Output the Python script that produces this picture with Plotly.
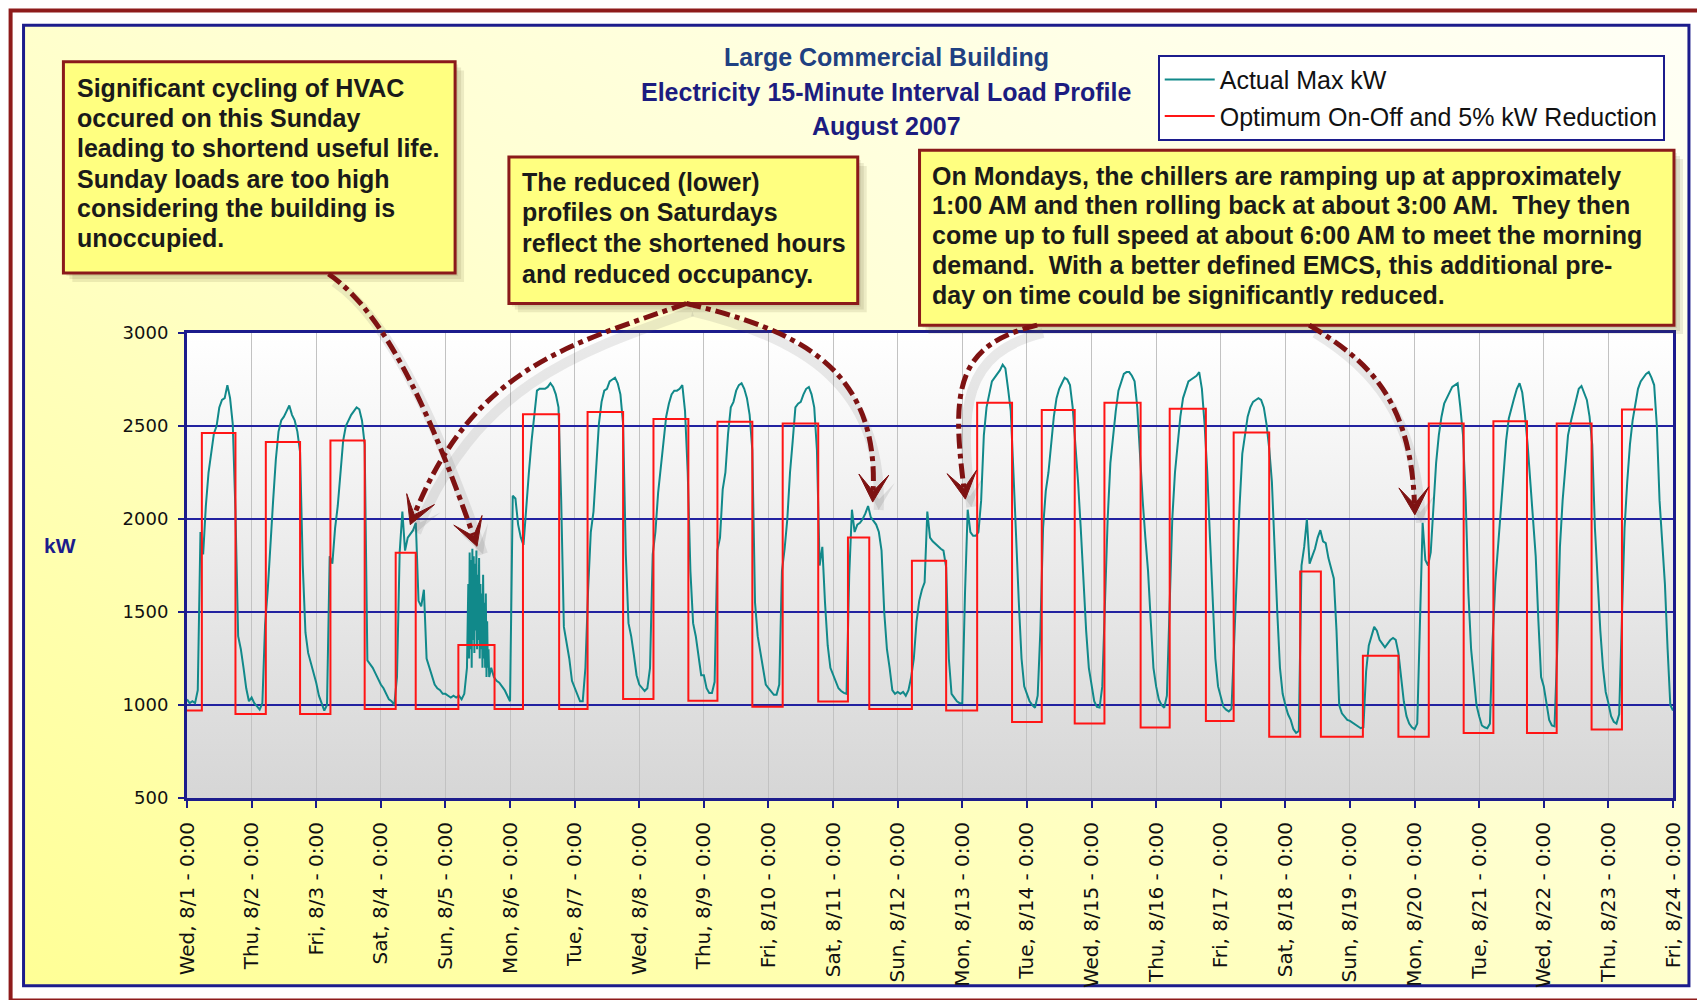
import plotly.graph_objects as go
import base64

# ---------------- DATA ----------------
x_tick_labels = [
    "Wed, 8/1 - 0:00", "Thu, 8/2 - 0:00", "Fri, 8/3 - 0:00", "Sat, 8/4 - 0:00",
    "Sun, 8/5 - 0:00", "Mon, 8/6 - 0:00", "Tue, 8/7 - 0:00", "Wed, 8/8 - 0:00",
    "Thu, 8/9 - 0:00", "Fri, 8/10 - 0:00", "Sat, 8/11 - 0:00", "Sun, 8/12 - 0:00",
    "Mon, 8/13 - 0:00", "Tue, 8/14 - 0:00", "Wed, 8/15 - 0:00", "Thu, 8/16 - 0:00",
    "Fri, 8/17 - 0:00", "Sat, 8/18 - 0:00", "Sun, 8/19 - 0:00", "Mon, 8/20 - 0:00",
    "Tue, 8/21 - 0:00", "Wed, 8/22 - 0:00", "Thu, 8/23 - 0:00", "Fri, 8/24 - 0:00",
]

# Actual Max kW, hourly readings (hour 0..23) for each day 8/1 .. 8/23
actual_hourly_kw = [
    [1030, 1010, 1020, 1010, 1080, 1930, 1810, 2070, 2250, 2370, 2460, 2500, 2600, 2640, 2650, 2720, 2650, 2510, 2040, 1370, 1300, 1200, 1090, 1020],  # Wed 8/1
    [1040, 1010, 990, 975, 1010, 1430, 1620, 1880, 2100, 2320, 2470, 2530, 2550, 2580, 2610, 2560, 2530, 2470, 2360, 1750, 1390, 1280, 1230, 1180],    # Thu 8/2
    [1120, 1050, 1010, 970, 1000, 1800, 1760, 1950, 2070, 2250, 2420, 2500, 2530, 2560, 2580, 2600, 2590, 2530, 2400, 1240, 1220, 1200, 1170, 1140],   # Fri 8/3
    [1110, 1090, 1060, 1030, 1020, 1000, 1150, 1820, 2040, 1830, 1900, 1920, 1940, 1980, 1560, 1530, 1620, 1250, 1200, 1150, 1110, 1090, 1080, 1060],  # Sat 8/4
    [1060, 1050, 1040, 1050, 1040, 1050, 1030, 1060, 1200, None, None, None, None, None, None, None, None, 1200, 1150, 1130, 1120, 1100, 1080, 1050],  # Sun 8/5
    [1020, 2125, 2110, 1970, 1900, 1860, 2070, 2250, 2420, 2550, 2690, 2700, 2700, 2700, 2710, 2730, 2710, 2670, 2600, 2100, 1420, 1340, 1250, 1130],  # Mon 8/6
    [1090, 1055, 1020, 1020, 1200, 1620, 1930, 2040, 2290, 2510, 2630, 2690, 2700, 2740, 2750, 2760, 2730, 2670, 2510, 1810, 1440, 1370, 1270, 1160],  # Tue 8/7
    [1110, 1090, 1075, 1090, 1200, 1810, 1930, 2140, 2280, 2420, 2550, 2620, 2670, 2690, 2690, 2700, 2720, 2580, 2250, 1720, 1440, 1370, 1270, 1160],  # Wed 8/8
    [1160, 1090, 1065, 1065, 1125, 1830, 1900, 2160, 2250, 2460, 2600, 2630, 2690, 2720, 2730, 2700, 2650, 2560, 2370, 1550, 1370, 1280, 1200, 1110],  # Thu 8/9
    [1090, 1075, 1055, 1055, 1110, 1720, 1840, 2000, 2250, 2420, 2600, 2620, 2630, 2670, 2700, 2710, 2670, 2600, 2370, 1750, 1850, 1550, 1320, 1200],  # Fri 8/10
    [1160, 1120, 1090, 1075, 1065, 1060, 1700, 2050, 1930, 1970, 1980, 2000, 2030, 2070, 2010, 1990, 1970, 1930, 1830, 1500, 1300, 1200, 1080, 1060],  # Sat 8/11
    [1070, 1060, 1070, 1050, 1080, 1150, 1250, 1450, 1560, 1620, 1660, 2040, 1900, 1880, 1865, 1850, 1840, 1830, 1740, 1250, 1060, 1040, 1020, 1010],  # Sun 8/12
    [1010, 1600, 2050, 1930, 1910, 1910, 1930, 2100, 2450, 2600, 2680, 2740, 2760, 2780, 2800, 2830, 2810, 2700, 2580, 2250, 1850, 1550, 1250, 1100],  # Mon 8/13
    [1060, 1020, 1000, 985, 1050, 1400, 1950, 2150, 2250, 2400, 2550, 2650, 2700, 2730, 2760, 2750, 2720, 2600, 2420, 2200, 1950, 1650, 1400, 1200],   # Tue 8/14
    [1100, 1020, 990, 986, 1100, 1550, 2000, 2300, 2450, 2580, 2690, 2740, 2780, 2790, 2790, 2770, 2740, 2600, 2330, 2100, 1900, 1720, 1450, 1200],    # Wed 8/15
    [1100, 1030, 1000, 985, 1050, 1500, 2000, 2250, 2420, 2550, 2650, 2700, 2740, 2750, 2760, 2770, 2790, 2700, 2510, 2250, 1900, 1550, 1250, 1100],   # Thu 8/16
    [1040, 990, 975, 965, 980, 1350, 1800, 2070, 2350, 2450, 2550, 2600, 2630, 2640, 2650, 2640, 2600, 2510, 2380, 2200, 1800, 1500, 1200, 1060],      # Fri 8/17
    [1000, 950, 920, 870, 850, 860, 1750, 1850, 2000, 1760, 1800, 1840, 1900, 1940, 1880, 1870, 1790, 1730, 1680, 1400, 1000, 955, 935, 920],          # Sat 8/18
    [915, 905, 895, 885, 875, 880, 1180, 1320, 1370, 1420, 1400, 1350, 1330, 1310, 1330, 1350, 1360, 1350, 1280, 1150, 1020, 940, 900, 880],           # Sun 8/19
    [870, 900, 1500, 1980, 1780, 1750, 1820, 2050, 2300, 2450, 2550, 2620, 2650, 2680, 2710, 2720, 2730, 2600, 2450, 2100, 1600, 1300, 1150, 1000],    # Mon 8/20
    [940, 890, 880, 875, 900, 1350, 1660, 1850, 2050, 2250, 2420, 2540, 2600, 2650, 2700, 2730, 2680, 2560, 2400, 2200, 2000, 1800, 1450, 1150],       # Tue 8/21
    [1100, 1000, 920, 890, 885, 1300, 1850, 2100, 2300, 2450, 2520, 2580, 2650, 2700, 2715, 2680, 2640, 2550, 2400, 1950, 1650, 1400, 1200, 1070],    # Wed 8/22
    [1010, 940, 910, 900, 950, 1500, 1950, 2200, 2400, 2530, 2620, 2700, 2740, 2760, 2780, 2790, 2760, 2720, 2500, 2100, 1850, 1650, 1300, 1000],     # Thu 8/23
]
actual_final_kw = 970  # Fri 8/24 0:00

# Sunday 8/5 HVAC cycling, 15-minute readings from 08:30 onward
cycling_day = 4
cycling_start_hour = 8.5
cycling_kw = [1650, 1250, 1820, 1300, 1780, 1200, 1840, 1350, 1800, 1280, 1760, 1400,
              1830, 1300, 1700, 1350, 1790, 1250, 1650, 1300, 1600, 1200, 1700, 1250,
              1550, 1200, 1600, 1150, 1450, 1200, 1300, 1150]

# Optimum On-Off and 5% kW Reduction (one on-period per day)
red_initial_kw = 970
red_on_start = [0.23, 1.22, 2.22, 3.23, 4.20, 5.20, 6.20, 7.22, 8.21, 9.22, 10.23, 11.22,
                12.23, 13.23, 14.20, 15.21, 16.20, 17.23, 18.20, 19.22, 20.22, 21.20, 22.21]
red_on_end = [0.75, 1.75, 2.75, 3.54, 4.76, 5.76, 6.75, 7.76, 8.75, 9.77, 10.56, 11.75,
              12.77, 13.74, 14.76, 15.77, 16.75, 17.55, 18.75, 19.76, 20.74, 21.74, 22.69]
red_high_kw = [2463, 2414, 2422, 1819, 1322, 2563, 2575, 2537, 2523, 2514, 1900, 1776,
               2625, 2586, 2625, 2593, 2465, 1718, 1265, 2513, 2526, 2513, 2589]
red_low_kw = [952, 952, 979, 979, 979, 979, 1032, 1023, 991, 1019, 979, 970,
              908, 900, 879, 914, 829, 829, 829, 850, 850, 868, None]

title_lines = ["Large Commercial Building",
               "Electricity 15-Minute Interval Load Profile",
               "August 2007"]
note_sunday = ["Significant cycling of HVAC", "occured on this Sunday",
               "leading to shortend useful life.", "Sunday loads are too high",
               "considering the building is", "unoccupied."]
note_saturday = ["The reduced (lower)", "profiles on Saturdays",
                 "reflect the shortened hours", "and reduced occupancy."]
note_monday = ["On Mondays, the chillers are ramping up at approximately",
               "1:00 AM and then rolling back at about 3:00 AM.\u00a0 They then",
               "come up to full speed at about 6:00 AM to meet the morning",
               "demand.\u00a0 With a better defined EMCS, this additional pre-",
               "day on time could be significantly reduced."]

# ---------------- BUILD SERIES ----------------
pts = []
for d, vals in enumerate(actual_hourly_kw):
    for h, v in enumerate(vals):
        if v is not None:
            pts.append((d + h / 24.0, v))
for i, v in enumerate(cycling_kw):
    pts.append((cycling_day + (cycling_start_hour + 0.25 * i) / 24.0, v))
pts.append((len(actual_hourly_kw), actual_final_kw))
pts.sort()
actual_x = [p[0] for p in pts]
actual_y = [p[1] for p in pts]

red_x = [0.0]
red_y = [red_initial_kw]
for s, e, hi, lo in zip(red_on_start, red_on_end, red_high_kw, red_low_kw):
    red_x.append(s); red_y.append(hi)
    red_x.append(e); red_y.append(lo if lo is not None else hi)

# ---------------- LAYOUT GEOMETRY ----------------
FIG_W, FIG_H = 1697, 1000
PL, PR, PT, PB = 187, 1678, 333, 806
PW, PH = PR - PL, PB - PT


def fx(px):
    return (px - PL) / PW


def fy(py):
    return (PB - py) / PH


NAVY = "#1C1C8C"
DARKRED = "#7E1212"
FONT = "Liberation Sans, Arial, sans-serif"
TXT_SHIFT = -4  # small vertical correction for text baselines

fig = go.Figure()
fig.add_trace(go.Scatter(x=actual_x, y=actual_y, mode="lines", name="Actual Max kW",
                         legendgroup="a", line=dict(color="#11898A", width=2)))
fig.add_trace(go.Scatter(x=red_x, y=red_y, mode="lines", name="Optimum On-Off and 5% kW Reduction",
                         legendgroup="b", line=dict(color="#FF1515", width=2, shape="hv")))


def svg_uri(svg):
    return "data:image/svg+xml;base64," + base64.b64encode(svg.encode()).decode()


paper_svg = ('<svg xmlns="http://www.w3.org/2000/svg" width="200" height="200" preserveAspectRatio="none">'
             '<defs><linearGradient id="g" x1="1" y1="0" x2="0" y2="1">'
             '<stop offset="0" stop-color="#FFFFF6"/><stop offset="0.45" stop-color="#FFFFD2"/>'
             '<stop offset="1" stop-color="#FFFF96"/></linearGradient></defs>'
             '<rect width="200" height="200" fill="url(#g)"/></svg>')
plot_svg = ('<svg xmlns="http://www.w3.org/2000/svg" width="200" height="200" preserveAspectRatio="none">'
            '<defs><linearGradient id="g" x1="0" y1="0" x2="0" y2="1">'
            '<stop offset="0" stop-color="#FFFFFF"/><stop offset="1" stop-color="#D6D6D6"/>'
            '</linearGradient></defs><rect width="200" height="200" fill="url(#g)"/></svg>')

images = [
    dict(source=svg_uri(paper_svg), xref="paper", yref="paper", x=fx(23), y=fy(20),
         sizex=(1694 - 23) / PW, sizey=(997 - 20) / PH, xanchor="left", yanchor="top",
         sizing="stretch", layer="below"),
    dict(source=svg_uri(plot_svg), xref="paper", yref="paper", x=0, y=1, sizex=1, sizey=1,
         xanchor="left", yanchor="top", sizing="stretch", layer="below"),
]

shapes = []
# frames
shapes.append(dict(type="rect", xref="paper", yref="paper", x0=fx(10), y0=fy(5), x1=fx(1712), y1=fy(1012),
                   line=dict(color="#8E1B1B", width=4), layer="below"))
shapes.append(dict(type="rect", xref="paper", yref="paper", x0=fx(23), y0=fy(20), x1=fx(1694), y1=fy(997),
                   line=dict(color=NAVY, width=3), layer="below"))

# annotation boxes
boxes = [(63, 57, 456, 272), (510, 154, 860, 303), (922, 147, 1679, 325)]
for (x0, y0, x1, y1) in boxes:
    for off in (3, 6, 9):
        shapes.append(dict(type="rect", xref="paper", yref="paper", x0=fx(x0 + off), y0=fy(y0 + off),
                           x1=fx(x1 + off), y1=fy(y1 + off), fillcolor="rgba(80,70,40,0.11)",
                           line=dict(width=0), layer="above"))
    shapes.append(dict(type="rect", xref="paper", yref="paper", x0=fx(x0), y0=fy(y0), x1=fx(x1), y1=fy(y1),
                       fillcolor="#FFFF80", line=dict(color="#8B1A1A", width=3), layer="above"))

# curved dash-dot arrows (pixel control points)
arrows = [
    ((329, 273), (390, 315), (440, 440), (478, 550)),
    ((688, 303), (570, 345), (470, 380), (411, 528)),
    ((688, 303), (800, 330), (880, 380), (875, 505)),
    ((1040, 325), (960, 345), (955, 400), (968, 502)),
    ((1313, 325), (1370, 360), (1415, 410), (1419, 518)),
]


def cubic_path(p0, p1, p2, p3, dx=0, dy=0):
    pts_ = [(p[0] + dx, p[1] + dy) for p in (p0, p1, p2, p3)]
    s = [f"{fx(x):.5f},{fy(y):.5f}" for x, y in pts_]
    return f"M{s[0]} C{s[1]} {s[2]} {s[3]}"


def head_path(p2, p3, dx=0, dy=0):
    vx, vy = p3[0] - p2[0], p3[1] - p2[1]
    n = (vx ** 2 + vy ** 2) ** 0.5
    ux, uy = vx / n, vy / n
    nx, ny = -uy, ux
    L, HW, ND = 28, 15, 11
    tx, ty = p3[0] + dx, p3[1] + dy
    pts_ = [(tx, ty), (tx - L * ux + HW * nx, ty - L * uy + HW * ny), (tx - ND * ux, ty - ND * uy),
            (tx - L * ux - HW * nx, ty - L * uy - HW * ny)]
    s = [f"{fx(x):.5f},{fy(y):.5f}" for x, y in pts_]
    return f"M{s[0]} L{s[1]} L{s[2]} L{s[3]} Z", (ux, uy)


for p0, p1, p2, p3 in arrows:
    shapes.append(dict(type="path", xref="paper", yref="paper", path=cubic_path(p0, p1, p2, p3, 6, 8),
                       line=dict(color="rgba(90,90,90,0.13)", width=10), layer="above"))
    hp, (ux, uy) = head_path(p2, p3, 6, 8)
    shapes.append(dict(type="path", xref="paper", yref="paper", path=hp,
                       fillcolor="rgba(90,90,90,0.15)", line=dict(width=0), layer="above"))
for p0, p1, p2, p3 in arrows:
    hp, (ux, uy) = head_path(p2, p3)
    q2 = (p2[0] - 12 * ux, p2[1] - 12 * uy)
    q3 = (p3[0] - 12 * ux, p3[1] - 12 * uy)
    shapes.append(dict(type="path", xref="paper", yref="paper", path=cubic_path(p0, p1, q2, q3),
                       line=dict(color=DARKRED, width=5, dash="dashdot"), layer="above"))
    shapes.append(dict(type="path", xref="paper", yref="paper", path=hp,
                       fillcolor=DARKRED, line=dict(color=DARKRED, width=1), layer="above"))

annotations = []
title_colors = ["#1F4182", "#1C1C80", "#1C1C80"]
for line, cy, col in zip(title_lines, (56, 92, 126), title_colors):
    annotations.append(dict(x=fx(889), y=fy(cy + TXT_SHIFT), xref="paper", yref="paper", xanchor="center",
                            yanchor="middle", showarrow=False, text=f"<b>{line}</b>",
                            font=dict(family=FONT, size=25, color=col)))


def add_note(lines, left, centers):
    for t, cy in zip(lines, centers):
        annotations.append(dict(x=fx(left), y=fy(cy + TXT_SHIFT), xref="paper", yref="paper", xanchor="left",
                                yanchor="middle", showarrow=False, text=f"<b>{t}</b>",
                                font=dict(family=FONT, size=25, color="#1A1A1A")))


add_note(note_sunday, 75, (88, 118, 149, 180, 210, 240))
add_note(note_saturday, 521, (183, 214, 245, 277))
add_note(note_monday, 933, (177, 207, 237, 268, 298))

annotations.append(dict(x=fx(60), y=fy(549), xref="paper", yref="paper", xanchor="center", yanchor="middle",
                        showarrow=False, text="<b>kW</b>", font=dict(family=FONT, size=21, color=NAVY)))

fig.update_layout(
    width=FIG_W, height=FIG_H, autosize=False,
    margin=dict(l=PL, r=FIG_W - PR, t=PT, b=FIG_H - PB, pad=0),
    paper_bgcolor="white", plot_bgcolor="rgba(0,0,0,0)",
    images=images, shapes=shapes, annotations=annotations,
    showlegend=True,
    legend=dict(x=fx(1161), y=fy(50), xanchor="left", yanchor="top", bgcolor="white",
                bordercolor=NAVY, borderwidth=2, tracegroupgap=1, itemwidth=50,
                font=dict(family=FONT, size=25, color="#111111")),
    xaxis=dict(range=[0, len(x_tick_labels) - 1], tickmode="array",
               tickvals=list(range(len(x_tick_labels))), ticktext=x_tick_labels,
               tickangle=-90, tickfont=dict(family="DejaVu Sans", size=20, color="#111111"),
               ticks="outside", ticklen=7, tickwidth=2, tickcolor=NAVY,
               showline=True, linecolor=NAVY, linewidth=3, mirror=True,
               showgrid=True, gridcolor="#C2C2C2", gridwidth=1, zeroline=False, ticklabelstandoff=6),
    yaxis=dict(range=[500, 3000], dtick=500, tick0=500,
               tickfont=dict(family="DejaVu Sans", size=18, color="#111111"),
               ticks="outside", ticklen=6, tickwidth=2, tickcolor=NAVY,
               showline=True, linecolor=NAVY, linewidth=3, mirror=True,
               showgrid=True, gridcolor="#2222A0", gridwidth=2, zeroline=False, ticklabelstandoff=6),
)

fig.write_html("out.html", include_plotlyjs=True, full_html=True,
               config={"displayModeBar": False},
               post_script="document.body.style.margin='0';document.body.style.overflow='hidden';")
